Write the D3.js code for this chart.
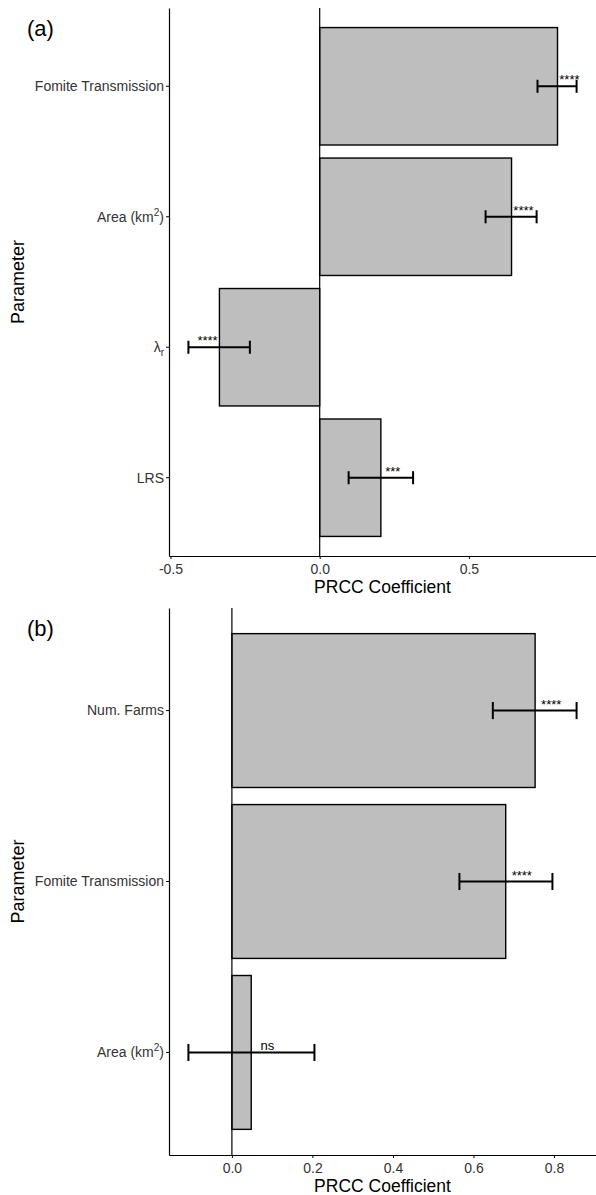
<!DOCTYPE html>
<html>
<head>
<meta charset="utf-8">
<script src="https://cdn.jsdelivr.net/npm/d3@7"></script>
<style>
  body { margin: 0; background: #fff; }
  svg { display: block; font-family: "Liberation Sans", Arial, sans-serif; }
</style>
</head>
<body>
<svg width="596" height="1195"></svg>
<script>
// panel (a)
const paramsA = ["Fomite Transmission", "Area (km^2)", "lambda_r", "LRS"];
const prccA = [0.797, 0.643, -0.336, 0.205];
const lowA = [0.730, 0.556, -0.440, 0.097];
const highA = [0.861, 0.727, -0.234, 0.313];
const sigA = ["****", "****", "****", "***"];
const ticksA = [-0.5, 0, 0.5];

// panel (b)
const paramsB = ["Num. Farms", "Fomite Transmission", "Area (km^2)"];
const prccB = [0.753, 0.680, 0.048];
const lowB = [0.648, 0.565, -0.108];
const highB = [0.856, 0.796, 0.205];
const sigB = ["****", "****", "ns"];
const ticksB = [0, 0.2, 0.4, 0.6, 0.8];

const svg = d3.select("svg");

function label(sel, s) {
    if (s.includes("^")) {
        const [a, b] = s.split("^");
        sel.append("tspan").text(a.replace(")", ""));
        sel.append("tspan").attr("dy", -6).attr("font-size", 10).text(b.replace(")", ""));
        sel.append("tspan").attr("dy", 6).text(")");
    } else if (s === "lambda_r") {
        sel.append("tspan").text("λ");
        sel.append("tspan").attr("dy", 4).attr("font-size", 10).text("r");
    } else {
        sel.text(s);
    }
}

function panel(tag, params, prcc, low, high, sig, ticks, box) {
    const rows = params.map((p, i) => ({ p, v: prcc[i], lo: low[i], hi: high[i], s: sig[i] }));
    const lo = d3.min(low), hi = d3.max(high), pad = (hi - lo) * 0.05;
    const x = d3.scaleLinear().domain([lo - pad, hi + pad]).range([box.l, box.r]);
    const y = d3.scaleBand().domain(params).range([box.t, box.b])
        .paddingInner(0.1).paddingOuter(0.15);
    const g = svg.append("g");

    // bars
    g.selectAll("rect").data(rows).enter().append("rect")
        .attr("x", d => x(Math.min(0, d.v)))
        .attr("width", d => Math.abs(x(d.v) - x(0)))
        .attr("y", d => y(d.p))
        .attr("height", y.bandwidth())
        .attr("fill", "#bebebe")
        .attr("stroke", "#000")
        .attr("stroke-width", 1.4);

    // zero line
    g.append("line")
        .attr("x1", x(0)).attr("x2", x(0))
        .attr("y1", box.t).attr("y2", box.b)
        .attr("stroke", "#000").attr("stroke-width", 1.2);

    // error bars
    const cap = y.step() * 0.05;
    const eb = g.selectAll(".eb").data(rows).enter().append("g")
        .attr("stroke", "#000").attr("stroke-width", 2);
    const cy = d => y(d.p) + y.bandwidth() / 2;
    eb.append("line").attr("x1", d => x(d.lo)).attr("x2", d => x(d.hi))
        .attr("y1", cy).attr("y2", cy);
    eb.append("line").attr("x1", d => x(d.lo)).attr("x2", d => x(d.lo))
        .attr("y1", d => cy(d) - cap).attr("y2", d => cy(d) + cap);
    eb.append("line").attr("x1", d => x(d.hi)).attr("x2", d => x(d.hi))
        .attr("y1", d => cy(d) - cap).attr("y2", d => cy(d) + cap);

    // significance
    g.selectAll(".sig").data(rows).enter().append("text")
        .attr("x", d => x(d.v + (d.v < 0 ? -0.04 : 0.04)))
        .attr("y", d => cy(d) - 2)
        .attr("text-anchor", "middle")
        .attr("font-size", 13)
        .attr("fill", "#000")
        .text(d => d.s);

    // axes
    const fmt = d => d3.format(".1f")(d).replace("−", "-");
    const ax = g.append("g").attr("transform", `translate(0,${box.b})`)
        .call(d3.axisBottom(x).tickValues(ticks).tickFormat(fmt).tickSize(3).tickSizeOuter(0));
    ax.select(".domain").attr("stroke-width", 1.2);
    ax.selectAll("text").attr("font-size", 14).attr("fill", "#333").attr("dy", "0.85em");

    const ay = g.append("g").attr("transform", `translate(${box.l},0)`)
        .call(d3.axisLeft(y).tickSize(3).tickSizeOuter(0).tickFormat(""));
    ay.select(".domain").attr("stroke-width", 1.2);
    ay.selectAll(".tick").append("text")
        .attr("x", -5).attr("dy", "0.35em")
        .attr("text-anchor", "end")
        .attr("font-size", 14).attr("fill", "#333")
        .each(function (d) { label(d3.select(this), d); });

    // titles
    g.append("text")
        .attr("x", (box.l + box.r) / 2).attr("y", Math.min(box.b + 37, 1192))
        .attr("text-anchor", "middle").attr("font-size", 17.5)
        .text("PRCC Coefficient");
    g.append("text")
        .attr("transform", `translate(24,${(box.t + box.b) / 2}) rotate(-90)`)
        .attr("text-anchor", "middle").attr("font-size", 18)
        .text("Parameter");
    g.append("text")
        .attr("x", 27).attr("y", box.t + 28)
        .attr("font-size", 22)
        .text(tag);
}

panel("(a)", paramsA, prccA, lowA, highA, sigA, ticksA, { l: 169, r: 596, t: 8, b: 556 });
panel("(b)", paramsB, prccB, lowB, highB, sigB, ticksB, { l: 169, r: 596, t: 608, b: 1155 });
</script>
</body>
</html>
